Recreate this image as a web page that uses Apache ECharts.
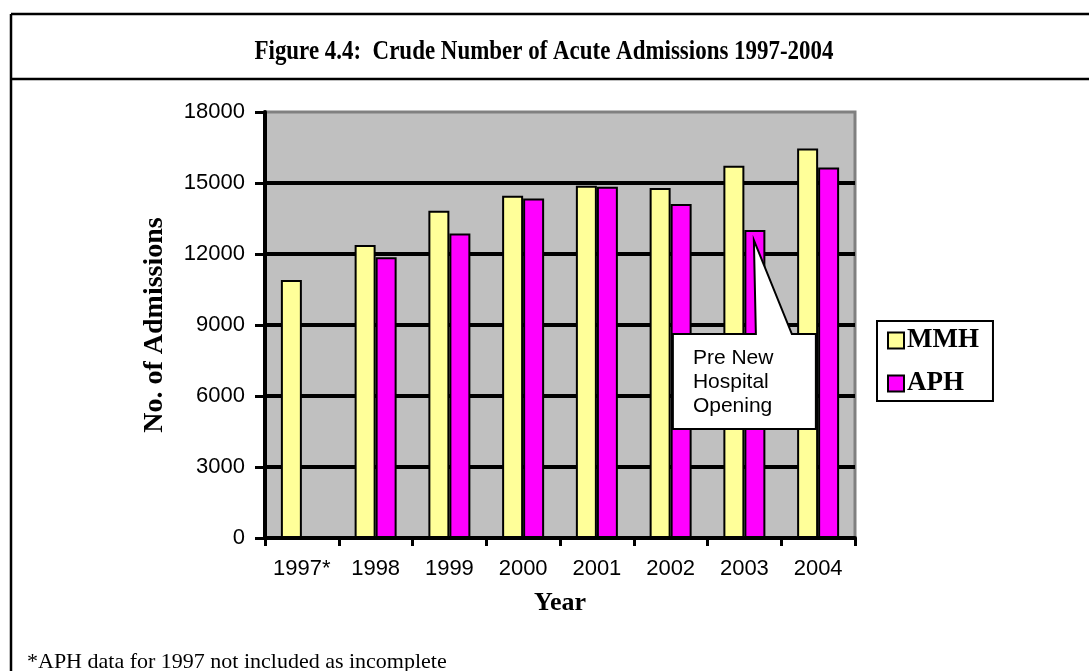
<!DOCTYPE html>
<html>
<head>
<meta charset="utf-8">
<script src="https://cdn.jsdelivr.net/npm/echarts@6/dist/echarts.min.js"></script>
<style>
  html, body { margin: 0; padding: 0; background: #fff; }
  #chart { width: 1089px; height: 671px; }
</style>
</head>
<body>
<div id="chart"></div>
<script>
// data
var years = ['1997*', '1998', '1999', '2000', '2001', '2002', '2003', '2004']
var mmh = [10900, 12380, 13830, 14460, 14880, 14790, 15730, 16460]
var aph = [null, 11860, 12870, 14350, 14840, 14110, 13010, 15660]
var yTicks = { min: 0, max: 18000, step: 3000 }
var calloutText = ['Pre New', 'Hospital', 'Opening']
var calloutIndex = 6

var serif = '"Liberation Serif", "Times New Roman", serif'
var sans = '"Liberation Sans", Arial, sans-serif'
var BAR_W = 21

var chart = echarts.init(document.getElementById('chart'))

chart.setOption({
  animation: false,
  backgroundColor: '#fff',
  grid: {
    left: 265,
    right: 234,
    top: 112,
    bottom: 133,
    show: true,
    backgroundColor: '#c0c0c0',
    borderColor: '#808080',
    borderWidth: 3
  },
  legend: {
    left: 877,
    top: 321,
    orient: 'vertical',
    padding: [6, 14, 4, 10],
    itemGap: 16,
    itemWidth: 16,
    itemHeight: 16,
    icon: 'rect',
    borderColor: '#000',
    borderWidth: 2,
    backgroundColor: '#fff',
    textStyle: { fontFamily: serif, fontWeight: 'bold', fontSize: 27, color: '#000', padding: [0, 0, 0, -2] },
    data: ['MMH', 'APH']
  },
  xAxis: {
    type: 'category',
    data: years,
    name: 'Year',
    nameLocation: 'middle',
    nameGap: 52,
    nameTextStyle: { fontFamily: serif, fontWeight: 'bold', fontSize: 26, color: '#000' },
    axisLine: { lineStyle: { color: '#000', width: 4 } },
    axisTick: { show: true, length: 8, lineStyle: { color: '#000', width: 3 } },
    axisLabel: { interval: 0, fontFamily: sans, fontSize: 22, color: '#000', margin: 20 },
    splitLine: { show: false }
  },
  yAxis: {
    type: 'value',
    min: yTicks.min,
    max: yTicks.max,
    interval: yTicks.step,
    name: 'No. of Admissions',
    nameLocation: 'middle',
    nameGap: 96,
    nameRotate: 90,
    nameTextStyle: { fontFamily: serif, fontWeight: 'bold', fontSize: 28, color: '#000' },
    axisLine: { show: true, lineStyle: { color: '#000', width: 4 } },
    axisTick: { show: true, length: 10, lineStyle: { color: '#000', width: 3 } },
    axisLabel: {
      fontFamily: sans,
      fontSize: 22,
      color: '#000',
      margin: 20,
      formatter: function (v) { return String(v) }
    },
    splitLine: { show: true, showMaxLine: false, lineStyle: { color: '#000', width: 4 } }
  },
  series: [
    {
      name: 'MMH',
      type: 'bar',
      data: mmh,
      barWidth: BAR_W,
      barGap: '0%',
      itemStyle: { color: '#ffff99', borderColor: '#000', borderWidth: 2 }
    },
    {
      name: 'APH',
      type: 'bar',
      data: aph,
      barWidth: BAR_W,
      barGap: '0%',
      itemStyle: { color: '#ff00ff', borderColor: '#000', borderWidth: 2 }
    }
  ]
})

// callout anchored on the 2003 APH bar
var p = chart.convertToPixel({ seriesIndex: 1 }, [years[calloutIndex], aph[calloutIndex]])
var tx = p[0] + BAR_W / 2 - 1
var ty = p[1] + 10

chart.setOption({
  graphic: [
    // page frame
    { type: 'line', shape: { x1: 11, y1: 14, x2: 1089, y2: 14 }, style: { stroke: '#000', lineWidth: 2.5 } },
    { type: 'line', shape: { x1: 11, y1: 79, x2: 1089, y2: 79 }, style: { stroke: '#000', lineWidth: 2.5 } },
    { type: 'line', shape: { x1: 11, y1: 14, x2: 11, y2: 671 }, style: { stroke: '#000', lineWidth: 2.5 } },
    {
      type: 'text',
      x: 544,
      y: 52,
      scaleX: 0.85,
      style: {
        text: 'Figure 4.4:  Crude Number of Acute Admissions 1997-2004',
        font: 'bold 27px ' + serif,
        fill: '#000',
        align: 'center',
        verticalAlign: 'middle'
      }
    },
    {
      type: 'text',
      x: 27,
      y: 662,
      style: {
        text: '*APH data for 1997 not included as incomplete',
        font: '22px ' + serif,
        fill: '#000',
        verticalAlign: 'middle'
      }
    },
    {
      type: 'polygon',
      z: 100,
      shape: {
        points: [
          [tx - 81, ty + 94], [tx + 2, ty + 94], [tx, ty], [tx + 38, ty + 94],
          [tx + 62, ty + 94], [tx + 62, ty + 189], [tx - 81, ty + 189]
        ]
      },
      style: { fill: '#fff', stroke: '#000', lineWidth: 2 }
    },
    {
      type: 'text',
      z: 101,
      x: tx - 61,
      y: ty + 106,
      style: {
        text: calloutText.join('\n'),
        font: '21px ' + sans,
        lineHeight: 24,
        fill: '#000',
        verticalAlign: 'top'
      }
    }
  ]
})
</script>
</body>
</html>
